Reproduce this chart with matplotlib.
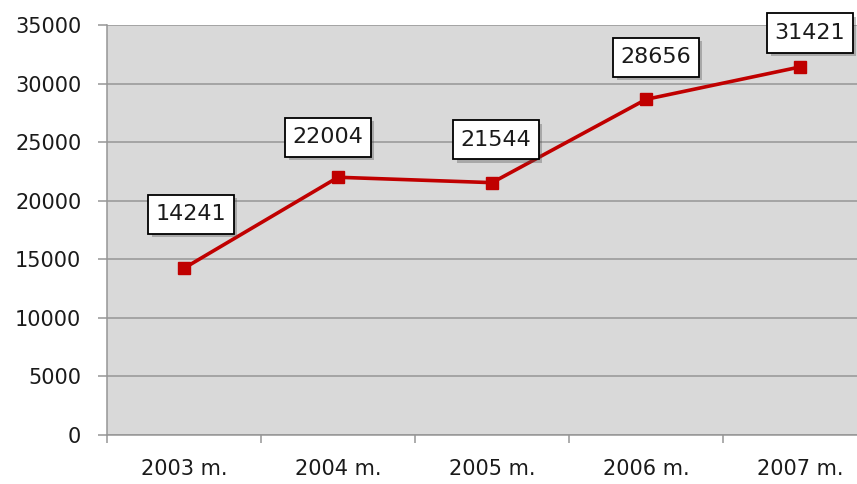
import matplotlib
matplotlib.use("Agg")
import matplotlib.pyplot as plt
import matplotlib.patheffects as pe
from matplotlib.path import Path

# data
years = ["2003 m.", "2004 m.", "2005 m.", "2006 m.", "2007 m."]
values = [14241, 22004, 21544, 28656, 31421]

# label box offsets (pixels) relative to each point
label_dx = [7, -10, 4, 10, 10]
label_dy = [54, 40, 43, 42, 34]


def label_box(x0, y0, width, height, mutation_size):
    # plain rectangle, a bit more padding top/bottom than left/right
    px = 0.33 * mutation_size
    py = 0.43 * mutation_size
    x0, y0 = x0 - px, y0 - py
    x1, y1 = x0 + width + 2 * px, y0 + height + 2 * py
    return Path([(x0, y0), (x1, y0), (x1, y1), (x0, y1), (x0, y0)], closed=True)


plt.rcParams['font.family'] = ['DejaVu Sans']

fig = plt.figure(figsize=(8.57, 4.84), dpi=100)
ax = fig.add_axes([0.1249, 0.1012, 0.8985, 0.8471])
ax.set_facecolor("#d9d9d9")

x = [i + 0.5 for i in range(len(years))]
ax.plot(x, values, color="#c00000", lw=2.6, marker="s", markersize=8,
        zorder=3, clip_on=False)

for xi, v, dx, dy in zip(x, values, label_dx, label_dy):
    ann = ax.annotate(str(v), (xi, v), xytext=(dx * 0.72, dy * 0.72),
                      textcoords="offset points", ha="center", va="center",
                      fontsize=16, color="#1a1a1a", zorder=5,
                      bbox=dict(boxstyle=label_box, fc="white",
                                ec="black", lw=1.3))
    ann.get_bbox_patch().set_path_effects(
        [pe.SimplePatchShadow(offset=(2.5, -2.5), alpha=0.35), pe.Normal()])

ax.set_xlim(0, 5)
ax.set_ylim(0, 35000)
ax.set_yticks(range(0, 35001, 5000))
ax.yaxis.grid(True, color="#969696", lw=1.1)
ax.set_axisbelow(True)

ax.set_xticks(range(0, 6))
ax.set_xticklabels([])
ax.set_xticks(x, minor=True)
ax.set_xticklabels(years, minor=True)
ax.tick_params(axis="x", which="minor", length=0, pad=17, labelsize=15,
               labelcolor="#1a1a1a")
ax.tick_params(axis="x", which="major", length=6, color="#969696", width=1.1)
ax.tick_params(axis="y", length=6.5, color="#969696", width=1.1, pad=12,
               labelsize=15, labelcolor="#1a1a1a")

for s in ["top", "right"]:
    ax.spines[s].set_visible(False)
for s in ["left", "bottom"]:
    ax.spines[s].set_color("#969696")
    ax.spines[s].set_linewidth(1.1)

fig.savefig("out.png", dpi=100)
